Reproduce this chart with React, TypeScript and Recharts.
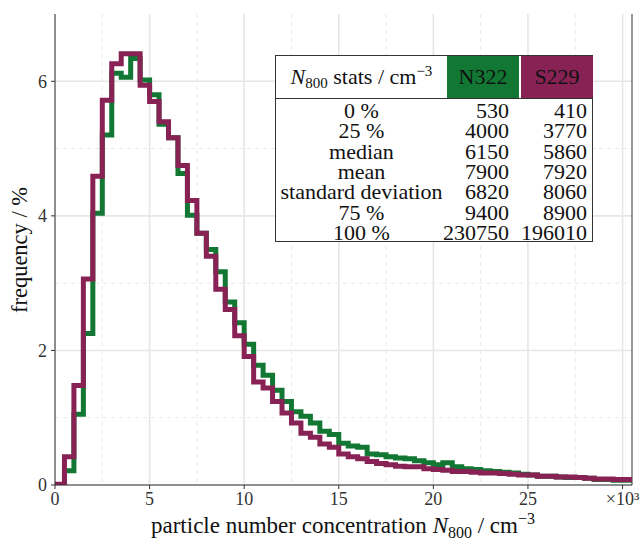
import {
  LineChart,
  Line,
  XAxis,
  YAxis,
  CartesianGrid,
  ReferenceLine,
} from "recharts";

// bin starts (x 10^3 cm^-3), last entry closes the final step
const binStart = [
  0, 0.5, 1, 1.5, 2, 2.5, 3, 3.5, 4, 4.5, 5, 5.5, 6, 6.5, 7, 7.5, 8, 8.5, 9,
  9.5, 10, 10.5, 11, 11.5, 12, 12.5, 13, 13.5, 14, 14.5, 15, 15.5, 16, 16.5,
  17, 17.5, 18, 18.5, 19, 19.5, 20, 20.5, 21, 21.5, 22, 22.5, 23, 23.5, 24,
  24.5, 25, 25.5, 26, 26.5, 27, 27.5, 28, 28.5, 29, 29.5, 30, 30.5,
];

const n322 = [
  0, 0.21, 1.05, 2.25, 4.04, 5.2, 6.12, 6.06, 6.34, 6.02, 5.8, 5.36, 5.16,
  4.63, 4.01, 3.74, 3.5, 3.17, 2.72, 2.41, 2.09, 1.78, 1.63, 1.41, 1.24, 1.09,
  1.02, 0.92, 0.8, 0.75, 0.62, 0.58, 0.56, 0.46, 0.45, 0.42, 0.4, 0.39, 0.36,
  0.33, 0.3, 0.33, 0.27, 0.24, 0.23, 0.21, 0.2, 0.19, 0.18, 0.16, 0.15, 0.13,
  0.13, 0.12, 0.11, 0.11, 0.1, 0.08, 0.08, 0.07, 0.07, 0.07,
];

const s229 = [
  0.01, 0.42, 1.48, 3.06, 4.59, 5.72, 6.26, 6.41, 6.41, 5.94, 5.7, 5.4, 5.16,
  4.75, 4.23, 3.74, 3.4, 2.91, 2.61, 2.22, 1.91, 1.53, 1.44, 1.24, 1.07, 0.92,
  0.77, 0.71, 0.61, 0.56, 0.46, 0.42, 0.39, 0.35, 0.32, 0.3, 0.28, 0.27, 0.27,
  0.24, 0.23, 0.22, 0.2, 0.2, 0.19, 0.18, 0.18, 0.17, 0.16, 0.15, 0.15, 0.13,
  0.13, 0.12, 0.12, 0.11, 0.1, 0.09, 0.09, 0.08, 0.08, 0.08,
];

const xTicks = [0, 5, 10, 15, 20, 25, 30];
const yTicks = [0, 2, 4, 6];
const xMinor = [2.5, 7.5, 12.5, 17.5, 22.5, 27.5];
const yMinor = [1, 3, 5];

const statLabels = ["0 %", "25 %", "median", "mean", "standard deviation", "75 %", "100 %"];
const n322Stats = [530, 4000, 6150, 7900, 6820, 9400, 230750];
const s229Stats = [410, 3770, 5860, 7920, 8060, 8900, 196010];

const GREEN = "#117733";
const WINE = "#882255";
const FONT = "Liberation Serif, Times New Roman, Times, serif";

const data = binStart.map((x, i) => ({ x, n322: n322[i], s229: s229[i] }));

function StatsTable() {
  const rowH = 20.3;
  return (
    <div
      style={{
        position: "absolute",
        left: 275,
        top: 55,
        width: 318,
        height: 187,
        border: "1.5px solid #333",
        boxSizing: "border-box",
        background: "#fff",
        fontSize: 22,
        color: "#111",
      }}
    >
      <div style={{ position: "absolute", left: 0, top: 0, width: 171, height: 42, display: "flex", alignItems: "center", justifyContent: "center" }}>
        <span>
          <i>N</i>
          <sub style={{ fontSize: 15, verticalAlign: "-4px" }}>800</sub> stats / cm
          <sup style={{ fontSize: 15, verticalAlign: "8px" }}>−3</sup>
        </span>
      </div>
      <div style={{ position: "absolute", left: 171, top: 0, width: 72, height: 42, background: GREEN, display: "flex", alignItems: "center", justifyContent: "center" }}>
        N322
      </div>
      <div style={{ position: "absolute", left: 245, top: 0, width: 72, height: 42, background: WINE, display: "flex", alignItems: "center", justifyContent: "center" }}>
        S229
      </div>
      <div style={{ position: "absolute", left: 0, top: 42, width: "100%", borderTop: "1.5px solid #333" }} />
      {statLabels.map((lab, i) => (
        <div key={lab} style={{ position: "absolute", left: 0, top: 45 + i * rowH, width: "100%", height: rowH, lineHeight: `${rowH}px` }}>
          <span style={{ position: "absolute", left: 0, width: 171, textAlign: "center" }}>{lab}</span>
          <span style={{ position: "absolute", right: 83, textAlign: "right" }}>{n322Stats[i]}</span>
          <span style={{ position: "absolute", right: 5, textAlign: "right" }}>{s229Stats[i]}</span>
        </div>
      ))}
    </div>
  );
}

const XLabel = () => (
  <text x={343} y={533} textAnchor="middle" fontSize={23} fill="#111" fontFamily={FONT}>
    particle number concentration <tspan fontStyle="italic">N</tspan>
    <tspan fontSize={16} dy={5}>800</tspan>
    <tspan dy={-5}> / cm</tspan>
    <tspan fontSize={16} dy={-9}>−3</tspan>
  </text>
);

const YLabel = () => (
  <text x={22} y={250} transform="rotate(-90 22 250)" textAnchor="middle" dominantBaseline="middle" fontSize={22.5} fill="#111" fontFamily={FONT}>
    frequency / %
  </text>
);

export default function App() {
  return (
    <div style={{ position: "absolute", left: 0, top: 0, width: 641, height: 539, background: "#fff", fontFamily: FONT }}>
      <LineChart width={641} height={539} data={data} margin={{ top: 14, right: 9, left: 0, bottom: 0 }}>
        <CartesianGrid stroke="#e8e8e8" strokeDasharray="4 4" strokeWidth={1} verticalValues={xMinor} horizontalValues={yMinor} />
        <CartesianGrid stroke="#e6e6e6" strokeWidth={1.6} verticalValues={xTicks} horizontalValues={yTicks} />
        <XAxis
          type="number"
          dataKey="x"
          domain={[0, 30.5]}
          ticks={xTicks}
          height={54}
          allowDataOverflow
          stroke="#333"
          tickSize={4}
          tickMargin={3}
          tick={{ fontSize: 18, fill: "#333", fontFamily: FONT }}
          tickFormatter={(v: number) => (v === 30 ? "×10³" : String(v))}
          label={<XLabel />}
        />
        <YAxis
          type="number"
          domain={[0, 7]}
          ticks={yTicks}
          width={55}
          allowDataOverflow
          stroke="#333"
          tickSize={4}
          tickMargin={4}
          tick={{ fontSize: 18, fill: "#333", fontFamily: FONT }}
          label={<YLabel />}
        />
        <ReferenceLine x={30.5} stroke="#333" strokeWidth={1} />
        <Line type="stepAfter" dataKey="n322" stroke={GREEN} strokeWidth={5} dot={false} isAnimationActive={false} />
        <Line type="stepAfter" dataKey="s229" stroke={WINE} strokeWidth={5} dot={false} isAnimationActive={false} />
      </LineChart>
      <StatsTable />
    </div>
  );
}
